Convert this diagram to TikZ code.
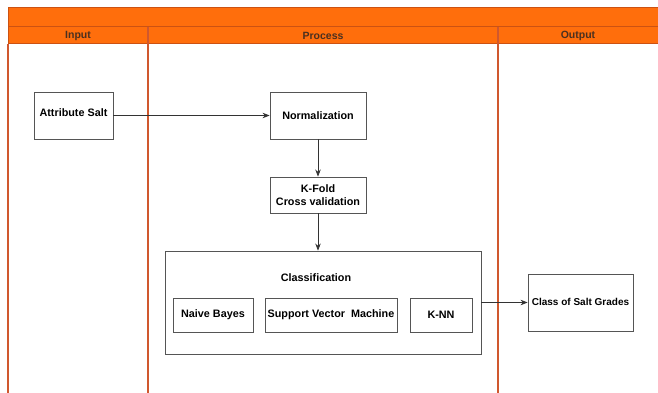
\documentclass[tikz,border=0pt]{standalone}
\usepackage{fontspec}
\setmainfont{Liberation Sans}
\usetikzlibrary{arrows.meta}
\definecolor{hdrfill}{HTML}{FF6E0C}
\definecolor{hdrline}{HTML}{CC5212}
\definecolor{laneline}{HTML}{D0582E}
\definecolor{boxline}{HTML}{555555}
\definecolor{hdrtext}{HTML}{4A3020}
\begin{document}
\begin{tikzpicture}[x=1pt,y=-1pt,
  box/.style={draw=boxline,line width=0.9pt,fill=white,align=center,inner sep=0pt,
    font=\fontsize{10.8}{13}\selectfont\bfseries},
  conn/.style={draw=black!80,line width=0.7pt,-{Stealth[length=7pt,width=5.5pt]}},
  hdr/.style={font=\fontsize{10.5}{12}\selectfont\bfseries,text=hdrtext}]
\useasboundingbox (0,0) rectangle (658,393);
% lanes
\fill[white] (0,0) rectangle (658,393);
\filldraw[fill=hdrfill,draw=hdrline,line width=1pt] (8,8) rectangle (660,27);
\filldraw[fill=hdrfill,draw=hdrline,line width=1pt] (8,27) rectangle (660,44);
\draw[laneline,line width=2pt] (8,44) -- (8,394);
\draw[laneline,line width=2pt] (148,27) -- (148,394);
\draw[laneline,line width=2pt] (498,27) -- (498,394);
\node[hdr] (hin) at (78,35.5) {Input};
\node[hdr] (hpr) at (323,35.5) {Process};
\node[hdr] (hout) at (578,35.5) {Output};
% boxes
\node[box,minimum width=79pt,minimum height=47pt,anchor=center] (attr) at (73.5,115.5) {\raisebox{5pt}{Attribute Salt}};
\node[box,minimum width=96pt,minimum height=47pt] (norm) at (318,115.5) {Normalization};
\node[box,minimum width=96pt,minimum height=36pt] (kfold) at (318,195) {K-Fold\\Cross validation};
\node[box,minimum width=316pt,minimum height=103pt] (cls) at (323,302.5) {};
\node[font=\fontsize{10.8}{13}\selectfont\bfseries] (clst) at (316,278) {Classification};
\node[box,minimum width=80pt,minimum height=34pt] (nb) at (213,315) {\raisebox{2pt}{Naive Bayes}};
\node[box,minimum width=132pt,minimum height=34pt] (svm) at (331,315) {\raisebox{2pt}{Support Vector\ \ Machine}};
\node[box,minimum width=62pt,minimum height=34pt] (knn) at (441,315) {\raisebox{-3pt}{K-NN}};
\node[box,minimum width=105pt,minimum height=57pt,font=\fontsize{10}{12}\selectfont\bfseries] (out) at (580.5,302.5) {\raisebox{2pt}{Class of Salt Grades}};
% connectors
\draw[conn] (attr.east) -- (norm.west);
\draw[conn] (norm.south) -- (kfold.north);
\draw[conn] (kfold.south) -- (kfold.south |- cls.north);
\draw[conn] (cls.east) -- (out.west);
\end{tikzpicture}
\end{document}
